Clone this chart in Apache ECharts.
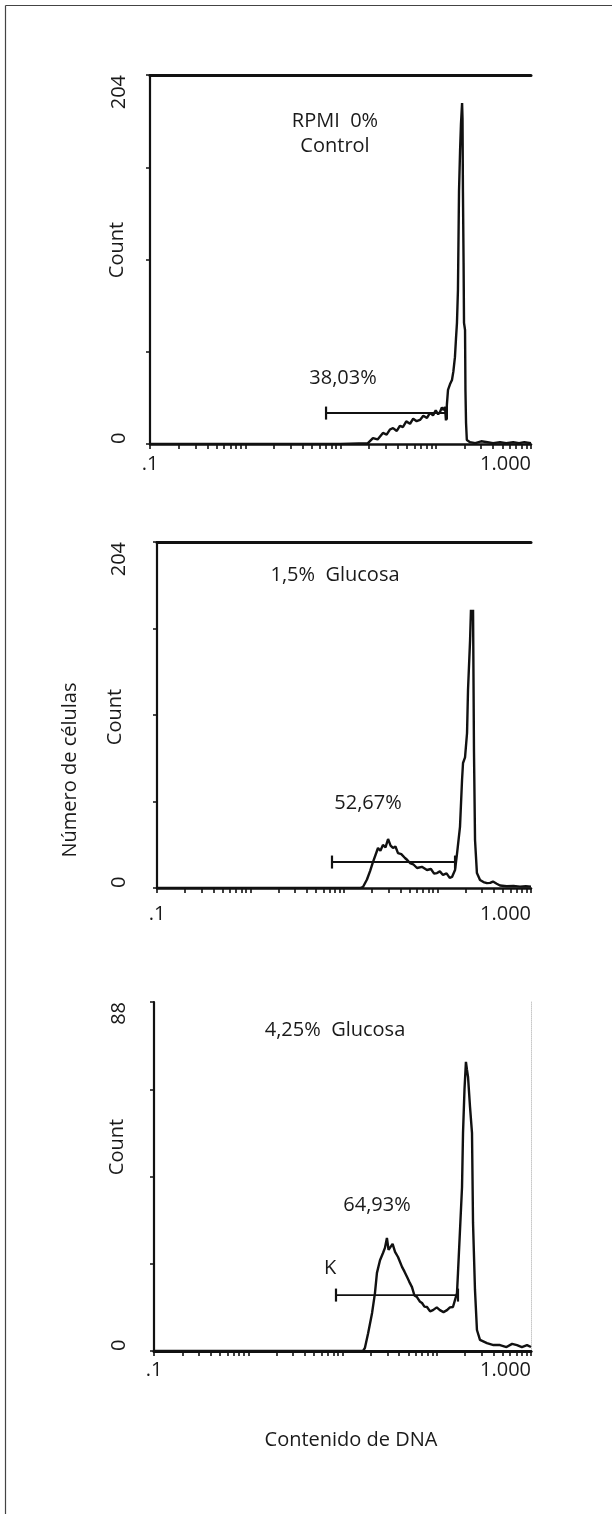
<!DOCTYPE html>
<html><head><meta charset="utf-8">
<script src="https://cdn.jsdelivr.net/npm/echarts@6/dist/echarts.min.js"></script>
<style>html,body{margin:0;padding:0;background:#fff}#c{width:612px;height:1514px}</style>
</head><body><div id="c"></div>
<script>
// ---------- data ----------
const xMin = 0.1, xMax = 1000;
const xTickValues = [0.1,0.2,0.3,0.4,0.5,0.6,0.7,0.8,0.9,1,2,3,4,5,6,7,8,9,10,20,30,40,50,60,70,80,90,100,200,300,400,500,600,700,800,900,1000];
const xLabelText = ['.1', '1.000'];
const yMax = [204, 204, 88];
const yLabelText = [['0','204'],['0','204'],['0','88']];

const ctrlDNA = [0.1,10,19.4,21.9,24.5,27.9,30.5,33,35.6,39,42,45.3,49,53.7,58,63,68.3,74,80.9,87,93.6,100,106,110.8,116,121,125,128,131,134.5,141,148,153,159,163,167,171,175.5,180,184,189,191,193,196,198,203,205,208,212,229,260,300,350,400,473,550,650,750,850,1000];
const ctrlCount = [0,0,0.5,3.3,2.5,6.1,5.2,8,8.8,7.2,10,9.4,12.5,11.2,14,12.6,13.3,15.6,14.4,17.2,15.8,18.6,16.4,17.7,20.2,18.8,20.5,13,22,29.9,33,35.4,40,48,58,67,85,140,162,177,188.5,180,139,100,67,63,30,11.6,2.2,1,0.5,1.5,1,0.5,1,0.5,1,0.5,1,0.5];

const glu15DNA = [0.1,15,15.96,17.6,19.0,20.4,23.1,24.5,26.1,27.8,29.6,31.5,33.4,35.5,37.8,41,44.9,47.5,50.8,55,60.4,68,77.2,85,92,98.8,106,114.5,125,135,143,154,162,174,183,187.5,197,207,212,223,228,234,240,245.5,252,264,285,310,338,365,392,430,466,550,650,763,880,1000];
const glu15Count = [0,0,0.6,5,10,15.3,23.6,22,25.4,24,28.9,25,23.6,24.5,20.6,20,17.7,16.5,14.7,14,11.8,12.5,10.6,11.2,8.5,8.8,9.8,7.7,8.6,6,6.5,10.6,20.6,36,63.7,73.7,77,91.4,116.7,146,164,158,164,81,28.3,8.8,4.7,3.5,2.9,3,3.8,2.5,1.5,1,1.2,0.8,1,0.8];

const glu425DNA = [0.1,16.5,17.3,18.7,20.6,22.1,23.2,25.0,26.9,28.2,29.6,30.8,31.9,34,36.1,38.8,42.8,45.5,48.3,51,54.6,58,61.7,66,69.8,74,78.8,85,91.2,100,108,118,128.5,138,148.6,164,168,176.5,185.4,190,197,204,209,214.8,225.5,236.6,242.6,254.5,267,287.6,341,400,469,550,630,710,800,907,1000];
const glu425Count = [0,0,0.8,4.5,9.6,14.6,19.7,22.9,24.7,26,28.5,25.5,25,27,25,23.7,21.2,20,18.7,17.5,16.1,14,13.6,12.5,12.1,11.2,11.1,10,10.3,11,10.3,9.8,10.3,11,11.1,14.6,19.7,30.5,41.3,55,66,72.9,71,69.1,61.5,55,32.3,15.4,5.3,2.8,2,1.5,1.5,1,1.8,1.5,1,1.5,1];

const gateStart = [7.05, 7.44, 8.53];
const gateEnd = [131, 154, 168];
const gateCount = [17.1, 15.3, 14.1];

const panelTitles = ['RPMI  0%\nControl', '1,5%  Glucosa', '4,25%  Glucosa'];
const gateLabels = ['38,03%', '52,67%', '64,93%'];
const markerLabel = 'K';
const yName = 'Count';
const sharedYName = 'Número de células';
const sharedXName = 'Contenido de DNA';

// ---------- layout ----------
const FONT = '"Open Sans", "DejaVu Sans", sans-serif';
const TXT = '#1a1a1a';
const FS = 20;
const layout = [
  {left:150, top:75,   width:381, height:369, xMargin:10, yMargin:21, title:[335,134], gate:[343,378], count:[117,250]},
  {left:157, top:542,  width:374, height:346, xMargin:16, yMargin:28, title:[335,575], gate:[368,803], count:[115,717]},
  {left:154, top:1002, width:377, height:349, xMargin:9,  yMargin:25, title:[335,1030], gate:[377,1205], count:[117,1147]}
];
const histDNA = [ctrlDNA, glu15DNA, glu425DNA];
const histCount = [ctrlCount, glu15Count, glu425Count];

const grid = [], xAxis = [], yAxis = [], series = [], graphic = [];
layout.forEach((L, i) => {
  grid.push({left:L.left, top:L.top, width:L.width, height:L.height});
  xAxis.push({
    type:'log', logBase:10, gridIndex:i, min:xMin, max:xMax, position:'bottom',
    axisLine:{show:true, lineStyle:{color:'#111', width:2.5}},
    axisTick:{show:true, customValues:xTickValues, length:5, inside:false, lineStyle:{color:'#111', width:1.6}},
    minorTick:{show:false},
    axisLabel:{show:true, margin:L.xMargin, fontSize:FS, fontFamily:FONT, color:TXT,
      formatter:(v) => v < 0.5 ? xLabelText[0] : (v > 500 ? xLabelText[1] : ''),
      alignMinLabel:'center', alignMaxLabel:'right'},
    splitLine:{show:false}
  });
  xAxis.push({
    type:'value', gridIndex:i, position:'top', min:0, max:1,
    axisLine:{show:true, lineStyle:{color:'#111', width:3}},
    axisTick:{show:false}, axisLabel:{show:false}, splitLine:{show:false}
  });
  yAxis.push({
    type:'value', gridIndex:i, min:0, max:yMax[i], interval:yMax[i]/4, position:'left',
    axisLine:{show:true, lineStyle:{color:'#111', width:2.2}},
    axisTick:{show:true, length:4, lineStyle:{color:'#111', width:1.5}},
    axisLabel:{show:true, rotate:90, margin:L.yMargin, fontSize:FS, fontFamily:FONT, color:TXT,
      formatter:(v) => v === 0 ? yLabelText[i][0] : (v === yMax[i] ? yLabelText[i][1] : ''),
      alignMinLabel:'left', alignMaxLabel:'right'},
    splitLine:{show:false}
  });
  series.push({
    type:'line', xAxisIndex:2*i, yAxisIndex:i,
    data: histDNA[i].map((x, k) => [x, histCount[i][k]]),
    symbol:'none', showSymbol:false, lineStyle:{color:'#111', width:2.4}, animation:false, z:3
  });
  series.push({
    type:'line', xAxisIndex:2*i, yAxisIndex:i,
    data:[[gateStart[i], gateCount[i]], [gateEnd[i], gateCount[i]]],
    symbol:'rect', symbolSize:[2.2,13], showSymbol:true, itemStyle:{color:'#111'},
    lineStyle:{color:'#111', width:1.9}, animation:false, z:4
  });
  graphic.push({type:'text', x:L.title[0], y:L.title[1], style:{text:panelTitles[i], fill:TXT, font:FS + 'px ' + FONT, textAlign:'center', textVerticalAlign:'middle', lineHeight:25}});
  graphic.push({type:'text', x:L.gate[0], y:L.gate[1], style:{text:gateLabels[i], fill:TXT, font:FS + 'px ' + FONT, textAlign:'center', textVerticalAlign:'middle'}});
  graphic.push({type:'text', x:L.count[0], y:L.count[1], rotation:Math.PI/2, style:{text:yName, fill:TXT, font:FS + 'px ' + FONT, textAlign:'center', textVerticalAlign:'middle'}});
});
// faint dotted right edge of third panel
yAxis.push({type:'value', gridIndex:2, min:0, max:yMax[2], position:'right',
  axisLine:{show:true, lineStyle:{color:'#c8c8c8', type:'dotted', width:1}},
  axisTick:{show:false}, axisLabel:{show:false}, splitLine:{show:false}});

graphic.push({type:'text', x:330, y:1268, style:{text:markerLabel, fill:TXT, font:FS + 'px ' + FONT, textAlign:'center', textVerticalAlign:'middle'}});
graphic.push({type:'text', x:70, y:770, rotation:Math.PI/2, style:{text:sharedYName, fill:TXT, font:FS + 'px ' + FONT, textAlign:'center', textVerticalAlign:'middle'}});
graphic.push({type:'text', x:351, y:1440, style:{text:sharedXName, fill:TXT, font:FS + 'px ' + FONT, textAlign:'center', textVerticalAlign:'middle'}});
graphic.push({type:'line', shape:{x1:5.5, y1:5.5, x2:612, y2:5.5}, style:{stroke:'#444', lineWidth:1.2}});
graphic.push({type:'line', shape:{x1:5.5, y1:5.5, x2:5.5, y2:1514}, style:{stroke:'#444', lineWidth:1.2}});

const chart = echarts.init(document.getElementById('c'), null, {renderer:'canvas'});
chart.setOption({
  animation:false,
  backgroundColor:'#fff',
  grid, xAxis, yAxis, series, graphic
});
</script></body></html>
